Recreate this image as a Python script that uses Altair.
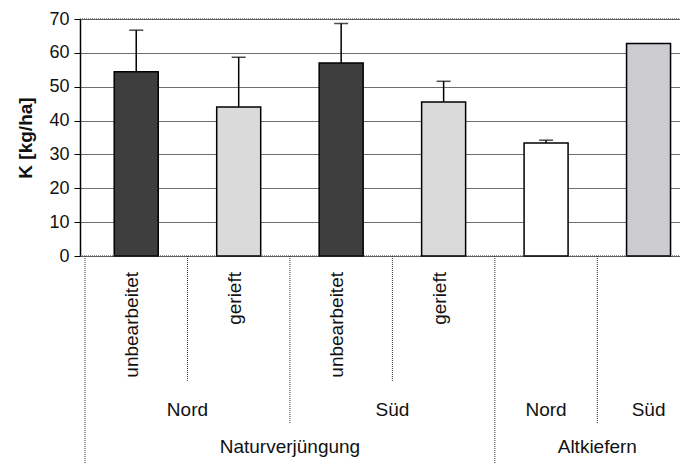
import altair as alt
import pandas as pd

# ---- data ----
level3 = ["Naturverjüngung", "Naturverjüngung", "Naturverjüngung", "Naturverjüngung", "Altkiefern", "Altkiefern"]
level2 = ["Nord", "Nord", "Süd", "Süd", "Nord", "Süd"]
level1 = ["unbearbeitet", "gerieft", "unbearbeitet", "gerieft", "", ""]
values = [54.4, 44.0, 57.0, 45.5, 33.4, 62.8]
err_top = [66.7, 58.7, 68.7, 51.6, 34.2, None]
y_ticks = [0, 10, 20, 30, 40, 50, 60, 70]
fill_colors = ["#3e3e3e", "#dadada", "#3e3e3e", "#dadada", "#ffffff", "#cbcbd0"]

FONT = "Liberation Sans"
STEP = 104.2          # pixels per category cell
W, H = 600, 237
TOTAL_H = 444
N = len(values)
keys = [f"{a}|{b}|{c}" for a, b, c in zip(level3, level2, level1)]

bars = pd.DataFrame({
    "key": keys,
    "pos": [i + 0.5 for i in range(N)],
    "val": values,
    "err": err_top,
})

# label rows
l1 = pd.DataFrame({"pos": [i + 0.5 for i in range(N) if level1[i]],
                   "txt": [t for t in level1 if t]})

def spans(labels):
    out = []
    start = 0
    for i in range(1, N + 1):
        if i == N or labels[i] != labels[start]:
            out.append(((start + i) / 2, labels[start].split("|")[-1]))
            start = i
    return out

l2 = pd.DataFrame(spans([f"{a}|{b}" for a, b in zip(level3, level2)]), columns=["pos", "txt"])
l3 = pd.DataFrame(spans(level3), columns=["pos", "txt"])

# separators between cells
sep_rows = [(0, 3)]
for i in range(1, N):
    if level3[i] != level3[i - 1]:
        lv = 3
    elif level2[i] != level2[i - 1]:
        lv = 2
    else:
        lv = 1
    sep_rows.append((i, lv))
seps = pd.DataFrame(sep_rows, columns=["pos", "lv"])

xs = alt.Scale(domain=[0, W / STEP], nice=False, zero=True)
ys = alt.Scale(domain=[0, 70], nice=False)

def X(field):
    return alt.X(field, scale=xs, axis=None)

def Y(field):
    return alt.Y(field, scale=ys, axis=None)

base = alt.Chart(bars)

yaxis = alt.Axis(values=y_ticks, title="K [kg/ha]", grid=True,
                 gridColor="#6e6e6e", gridWidth=1,
                 domainColor="black", domainWidth=1.5,
                 tickColor="black", tickSize=6, tickWidth=1,
                 labelFontSize=18, labelColor="#111", labelPadding=5, labelFont=FONT,
                 titleFontSize=19, titleFontWeight="bold", titleColor="#111", titleFont=FONT,
                 titleX=-55, titleY=H / 2, titleAngle=270,
                 titleAlign="center", titleBaseline="middle")

bar = base.mark_bar(size=44, stroke="black", strokeWidth=1.5).encode(
    x=X("pos:Q"),
    y=alt.Y("val:Q", scale=ys, axis=yaxis),
    color=alt.Color("key:N", scale=alt.Scale(domain=keys, range=fill_colors), legend=None),
)

ebase = base.transform_filter("datum.err != null")
err_line = ebase.mark_rule(color="black", strokeWidth=1.5).encode(
    x=X("pos:Q"), y=Y("val:Q"), y2="err:Q")
err_cap = ebase.mark_tick(orient="horizontal", size=14, thickness=1.5, color="black").encode(
    x=X("pos:Q"), y=Y("err:Q"))

frame = alt.Chart(pd.DataFrame({"v": [0, 70]})).mark_rule(
    color="#333", strokeDash=[1, 1], strokeWidth=1.2).encode(
    y=Y("v:Q"), x=alt.value(0), x2=alt.value(W))

sep_len = {1: 362, 2: 404, 3: TOTAL_H}
sep_layers = [
    alt.Chart(seps).transform_filter(f"datum.lv == {lv}").mark_rule(
        color="#333", strokeDash=[1, 1], strokeWidth=1).encode(
        x=X("pos:Q"), y=alt.value(H), y2=alt.value(ln))
    for lv, ln in sep_len.items()
]

t1 = alt.Chart(l1).mark_text(angle=270, align="right", baseline="middle", dy=-4,
                             fontSize=19, font=FONT, color="#111").encode(
    x=X("pos:Q"), y=alt.value(253), text="txt:N")
t2 = alt.Chart(l2).mark_text(align="center", baseline="middle",
                             fontSize=19, font=FONT, color="#111").encode(
    x=X("pos:Q"), y=alt.value(391), text="txt:N")
t3 = alt.Chart(l3).mark_text(align="center", baseline="middle",
                             fontSize=19, font=FONT, color="#111").encode(
    x=X("pos:Q"), y=alt.value(428), text="txt:N")

chart = alt.layer(bar, frame, err_line, err_cap, *sep_layers, t1, t2, t3).properties(
    width=W, height=H,
    autosize=alt.AutoSizeParams(type="none"),
    padding={"left": 72, "top": 11, "right": 0, "bottom": TOTAL_H - H},
).resolve_axis(y="independent", x="independent").configure_view(stroke=None).configure(font=FONT)

chart.save("out.html", embed_options={"renderer": "svg", "actions": False})
